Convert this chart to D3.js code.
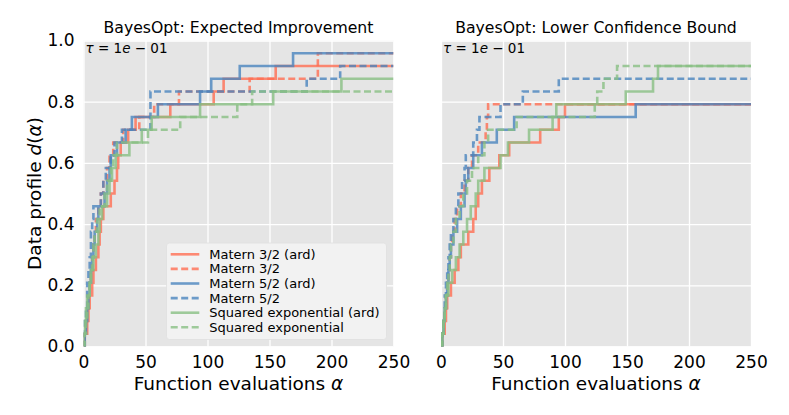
<!DOCTYPE html>
<html>
<head>
<meta charset="utf-8">
<script src="https://cdn.jsdelivr.net/npm/d3@7"></script>
<style>
  body { margin: 0; background: #fff; }
  svg { font-family: "DejaVu Sans", sans-serif; }
</style>
</head>
<body>
<svg id="chart" width="789" height="415"></svg>
<script>
// data profiles: evaluation count at which each of the 24 problems was solved
var nProblems = 24;
var xTicks = [0, 50, 100, 150, 200, 250];
var yTicks = [0, 0.2, 0.4, 0.6, 0.8, 1.0];
var seriesNames = ["Matern 3/2 (ard)", "Matern 3/2", "Matern 5/2 (ard)", "Matern 5/2",
                   "Squared exponential (ard)", "Squared exponential"];
var panelTitles = ["BayesOpt: Expected Improvement", "BayesOpt: Lower Confidence Bound"];

// Expected Improvement
var eiMatern32Ard = [1, 3, 4, 5, 7, 8, 10, 12, 13, 14, 16, 22, 25, 27, 28, 30, 36, 42, 70, 105, 113, 155];
var eiMatern32 = [1, 2, 3, 4, 5, 6, 7, 8, 9, 10, 12, 14, 16, 19, 21, 24, 32, 45, 57, 77, 134, 189, 189];
var eiMatern52Ard = [1, 2, 3, 4, 5, 6, 7, 8, 9, 11, 12, 17, 19, 21, 22, 27, 34, 39, 60, 94, 103, 126, 169];
var eiMatern52 = [1, 1, 2, 3, 3, 4, 5, 6, 6, 7, 8, 14, 16, 18, 22, 25, 31, 54, 54, 54, 180, 207];
var eiSqExpArd = [0, 1, 2, 3, 5, 6, 8, 10, 12, 13, 15, 19, 21, 23, 26, 37, 47, 55, 94, 153, 208];
var eiSqExp = [1, 2, 3, 4, 5, 6, 7, 8, 9, 11, 13, 17, 19, 22, 24, 27, 52, 78, 124, 136];

// Lower Confidence Bound
var lcbMatern32Ard = [1, 3, 4, 5, 8, 11, 14, 16, 22, 26, 28, 30, 33, 39, 47, 55, 80, 95, 100];
var lcbMatern32 = [1, 2, 3, 4, 5, 6, 7, 8, 9, 11, 13, 16, 19, 22, 25, 30, 36, 37, 38];
var lcbMatern52Ard = [1, 2, 3, 4, 5, 6, 7, 8, 10, 13, 16, 19, 20, 22, 26, 33, 45, 59, 157];
var lcbMatern52 = [1, 2, 3, 3, 4, 5, 6, 7, 8, 10, 12, 14, 17, 19, 20, 26, 29, 31, 48, 66, 95];
var lcbSqExpArd = [1, 2, 3, 4, 6, 9, 12, 15, 18, 21, 24, 28, 30, 35, 48, 54, 71, 90, 93, 149, 171, 175];
var lcbSqExp = [1, 2, 3, 4, 5, 6, 7, 8, 10, 12, 15, 18, 21, 25, 30, 35, 38, 61, 124, 126, 131, 142];

var panels = [
    [eiMatern32Ard, eiMatern32, eiMatern52Ard, eiMatern52, eiSqExpArd, eiSqExp],
    [lcbMatern32Ard, lcbMatern32, lcbMatern52Ard, lcbMatern52, lcbSqExpArd, lcbSqExp]
];

var colors = ["#FF6E52", "#FF6E52", "#4A84BE", "#4A84BE", "#88BF83", "#88BF83"];
var dashes = [null, "7,3.5", null, "7,3.5", null, "7,3.5"];

var svg = d3.select("#chart");
var plotTop = 40.5, plotBottom = 346.5;
var lefts = [83.5, 441];
var w = 310;

var y = d3.scaleLinear().domain([0, 1]).range([plotBottom, plotTop]);

function profile(solved) {
    var pts = [[0, 0]];
    solved.forEach(function (v, i) {
        pts.push([v, (i + 1) / nProblems]);
    });
    pts.push([250, solved.length / nProblems]);
    return pts;
}

panels.forEach(function (series, p) {
    var x = d3.scaleLinear().domain([0, 250]).range([lefts[p], lefts[p] + w]);
    var g = svg.append("g");

    g.append("rect")
        .attr("x", lefts[p]).attr("y", plotTop)
        .attr("width", w).attr("height", plotBottom - plotTop)
        .attr("fill", "#E5E5E5");

    // grid
    g.append("g")
        .attr("transform", "translate(0," + plotBottom + ")")
        .call(d3.axisBottom(x).tickValues(xTicks).tickSize(-(plotBottom - plotTop)).tickFormat(""))
        .call(function (a) {
            a.select(".domain").remove();
            a.selectAll("line").attr("stroke", "#fff").attr("stroke-width", 1.3);
        });
    g.append("g")
        .attr("transform", "translate(" + lefts[p] + ",0)")
        .call(d3.axisLeft(y).tickValues(yTicks).tickSize(-w).tickFormat(""))
        .call(function (a) {
            a.select(".domain").remove();
            a.selectAll("line").attr("stroke", "#fff").attr("stroke-width", 1.3);
        });

    // tick labels
    g.append("g")
        .attr("transform", "translate(0," + plotBottom + ")")
        .call(d3.axisBottom(x).tickValues(xTicks).tickSize(0).tickPadding(9).tickFormat(d3.format("d")))
        .call(function (a) {
            a.select(".domain").remove();
            a.selectAll("text").attr("font-size", 17).attr("fill", "#000")
                .attr("font-family", "DejaVu Sans");
        });
    if (p === 0) {
        g.append("g")
            .attr("transform", "translate(" + lefts[p] + ",0)")
            .call(d3.axisLeft(y).tickValues(yTicks).tickSize(0).tickPadding(9).tickFormat(d3.format(".1f")))
            .call(function (a) {
                a.select(".domain").remove();
                a.selectAll("text").attr("font-size", 17).attr("fill", "#000")
                    .attr("font-family", "DejaVu Sans");
            });
    }

    var clipId = "clip" + p;
    svg.append("clipPath").attr("id", clipId).append("rect")
        .attr("x", lefts[p]).attr("y", plotTop).attr("width", w).attr("height", plotBottom - plotTop);

    var line = d3.line()
        .x(function (d) { return x(d[0]); })
        .y(function (d) { return y(d[1]); })
        .curve(d3.curveStepAfter);

    g.append("g").attr("clip-path", "url(#" + clipId + ")")
        .selectAll("path")
        .data(series)
        .enter()
        .append("path")
        .attr("d", function (d) { return line(profile(d)); })
        .attr("fill", "none")
        .attr("stroke", function (d, i) { return colors[i]; })
        .attr("stroke-width", 2.6)
        .attr("stroke-opacity", 0.8)
        .attr("stroke-dasharray", function (d, i) { return dashes[i]; });

    // title
    g.append("text")
        .attr("x", lefts[p] + w / 2).attr("y", 33)
        .attr("text-anchor", "middle")
        .attr("font-size", 15.7)
        .text(panelTitles[p]);

    // tau annotation
    var tau = g.append("text")
        .attr("x", lefts[p] + 2).attr("y", 52.5)
        .attr("font-size", 13.5);
    tau.append("tspan").attr("font-style", "italic").text("τ");
    tau.append("tspan").text(" = 1");
    tau.append("tspan").attr("font-style", "italic").text("e");
    tau.append("tspan").text(" − 01");

    // x label
    var xl = g.append("text")
        .attr("x", lefts[p] + w / 2).attr("y", 390)
        .attr("text-anchor", "middle")
        .attr("font-size", 18.5);
    xl.append("tspan").text("Function evaluations ");
    xl.append("tspan").attr("font-style", "italic").text("α");

    if (p === 0) {
        // legend
        var lg = g.append("g");
        lg.append("rect")
            .attr("x", 166.5).attr("y", 243)
            .attr("width", 220).attr("height", 96.5)
            .attr("rx", 3)
            .attr("fill", "#F2F2F2").attr("stroke", "#E0E0E0").attr("stroke-width", 0.8);
        seriesNames.forEach(function (name, i) {
            var cy = 254.3 + i * 14.6;
            lg.append("line")
                .attr("x1", 170.7).attr("x2", 199.3)
                .attr("y1", cy).attr("y2", cy)
                .attr("stroke", colors[i]).attr("stroke-width", 2.6)
                .attr("stroke-opacity", 0.8)
                .attr("stroke-dasharray", dashes[i]);
            lg.append("text")
                .attr("x", 209.3).attr("y", cy).attr("dy", "0.35em")
                .attr("font-size", 13)
                .text(name);
        });
    }
});

// y label
var ylab = svg.append("text")
    .attr("transform", "translate(41,193.5) rotate(-90)")
    .attr("text-anchor", "middle")
    .attr("font-size", 18.5);
ylab.append("tspan").text("Data profile ");
ylab.append("tspan").attr("font-style", "italic").text("d");
ylab.append("tspan").text("(");
ylab.append("tspan").attr("font-style", "italic").text("α");
ylab.append("tspan").text(")");
</script>
</body>
</html>
